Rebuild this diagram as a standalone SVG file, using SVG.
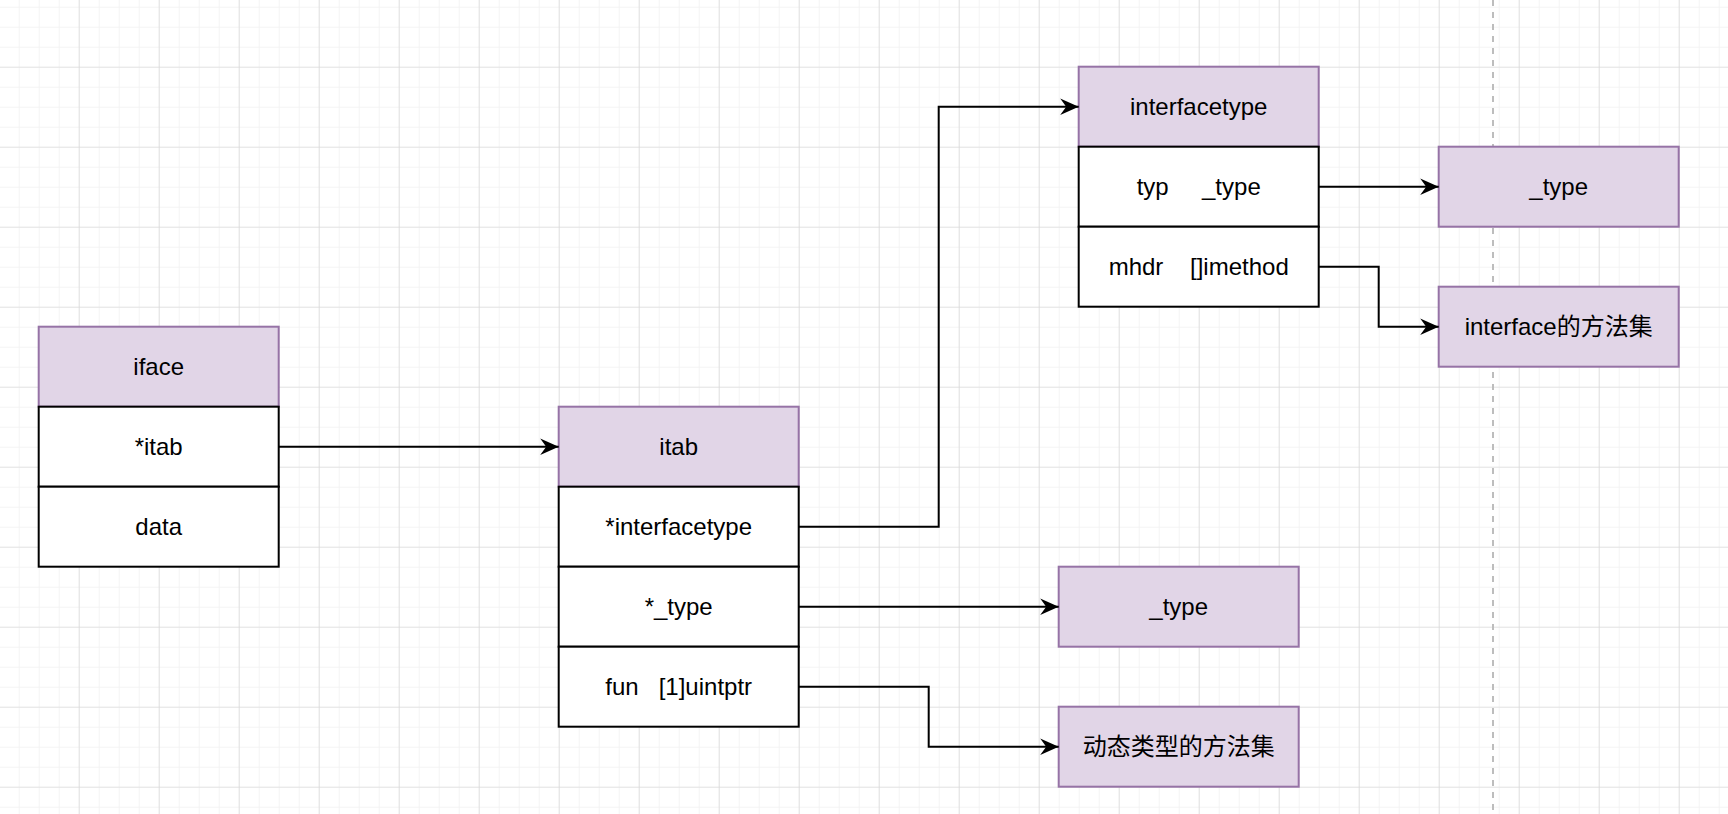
<svg xmlns="http://www.w3.org/2000/svg" width="1728" height="814" viewBox="0 0 1728 814">
  <defs>
    <pattern id="gridMinor" patternUnits="userSpaceOnUse" x="-1.3" y="6.7" width="20" height="20">
      <path d="M0,0 V20 M0,0 H20" fill="none" stroke="#f1f1f1" stroke-width="1.6"/>
    </pattern>
    <pattern id="gridMajor" patternUnits="userSpaceOnUse" x="-1.3" y="-13.3" width="80" height="80">
      <path d="M0,0 V80 M0,0 H80" fill="none" stroke="#d3d3d3" stroke-width="1.2"/>
    </pattern>
    <marker id="arrow" markerUnits="userSpaceOnUse" markerWidth="22" markerHeight="22" viewBox="0 0 22 22" refX="20" refY="11" orient="auto">
      <path d="M1.5,2.8 L20,11 L1.5,19.2 L7.5,11 Z" fill="#000"/>
    </marker>
  </defs>
  <style>
    .hdr { fill: #e1d5e7; stroke: #9673a6; stroke-width: 2; }
    .row { fill: #ffffff; stroke: #000000; stroke-width: 2; }
    .lbl { font-family: "Liberation Sans", "Noto Sans CJK SC", sans-serif; font-size: 24px; fill: #000; text-anchor: middle; white-space: pre; }
    .conn { fill: none; stroke: #000; stroke-width: 2; marker-end: url(#arrow); }
  </style>

  <rect x="0" y="0" width="1728" height="814" fill="#ffffff"/>
  <rect x="0" y="0" width="1728" height="814" fill="url(#gridMinor)"/>
  <rect x="0" y="0" width="1728" height="814" fill="url(#gridMajor)"/>
  <line x1="1493" y1="0" x2="1493" y2="814" stroke="#bdbdbd" stroke-width="2" stroke-dasharray="6,6"/>

  <g id="iface">
    <rect class="hdr" x="38.7" y="326.7" width="240" height="80"/>
    <rect class="row" x="38.7" y="406.7" width="240" height="80"/>
    <rect class="row" x="38.7" y="486.7" width="240" height="80"/>
    <text class="lbl" x="158.7" y="375.3">iface</text>
    <text class="lbl" x="158.7" y="455.3">*itab</text>
    <text class="lbl" x="158.7" y="535.3">data</text>
  </g>

  <g id="itab">
    <rect class="hdr" x="558.7" y="406.7" width="240" height="80"/>
    <rect class="row" x="558.7" y="486.7" width="240" height="80"/>
    <rect class="row" x="558.7" y="566.7" width="240" height="80"/>
    <rect class="row" x="558.7" y="646.7" width="240" height="80"/>
    <text class="lbl" x="678.7" y="455.3">itab</text>
    <text class="lbl" x="678.7" y="535.3">*interfacetype</text>
    <text class="lbl" x="678.7" y="615.3">*_type</text>
    <text class="lbl" x="678.7" y="695.3" xml:space="preserve">fun   [1]uintptr</text>
  </g>

  <g id="interfacetype">
    <rect class="hdr" x="1078.7" y="66.7" width="240" height="80"/>
    <rect class="row" x="1078.7" y="146.7" width="240" height="80"/>
    <rect class="row" x="1078.7" y="226.7" width="240" height="80"/>
    <text class="lbl" x="1198.7" y="115.3">interfacetype</text>
    <text class="lbl" x="1198.7" y="195.3" xml:space="preserve">typ     _type</text>
    <text class="lbl" x="1198.7" y="275.3" xml:space="preserve">mhdr    []imethod</text>
  </g>

  <g id="type-top">
    <rect class="hdr" x="1438.7" y="146.7" width="240" height="80"/>
    <text class="lbl" x="1558.7" y="195.3">_type</text>
  </g>

  <g id="interface-methods">
    <rect class="hdr" x="1438.7" y="286.7" width="240" height="80"/>
    <text class="lbl" x="1558.7" y="335.3">interface的方法集</text>
  </g>

  <g id="type-bottom">
    <rect class="hdr" x="1058.7" y="566.7" width="240" height="80"/>
    <text class="lbl" x="1178.7" y="615.3">_type</text>
  </g>

  <g id="dynamic-methods">
    <rect class="hdr" x="1058.7" y="706.7" width="240" height="80"/>
    <text class="lbl" x="1178.7" y="755.3">动态类型的方法集</text>
  </g>

  <g id="connectors">
    <path class="conn" d="M278.7,446.7 H558.7"/>
    <path class="conn" d="M798.7,526.7 H938.7 V106.7 H1078.7"/>
    <path class="conn" d="M798.7,606.7 H1058.7"/>
    <path class="conn" d="M798.7,686.7 H928.7 V746.7 H1058.7"/>
    <path class="conn" d="M1318.7,186.7 H1438.7"/>
    <path class="conn" d="M1318.7,266.7 H1378.7 V326.7 H1438.7"/>
  </g>
</svg>
